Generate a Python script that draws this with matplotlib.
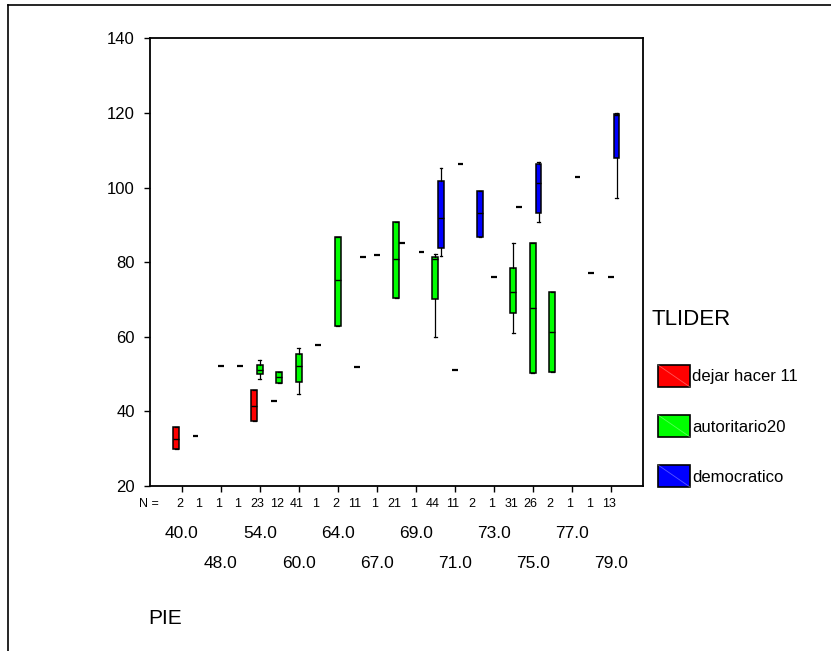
import matplotlib
matplotlib.use('Agg')
import matplotlib.pyplot as plt
from matplotlib.patches import Rectangle
from matplotlib.lines import Line2D

plt.rcParams['font.family'] = ['Liberation Sans', 'DejaVu Sans']

# PIE categories (23 of them, only every second one is labelled)
pie_labels = ['40.0', '48.0', '54.0', '60.0', '64.0', '67.0',
              '69.0', '71.0', '73.0', '75.0', '77.0', '79.0']
n_counts = [2, 1, 1, 1, 23, 12, 41, 1, 2, 11, 1, 21,
            1, 44, 11, 2, 1, 31, 26, 2, 1, 1, 13]

groups = ['dejar hacer 11', 'autoritario20', 'democratico']
colors = ['#ff0000', '#00ff00', '#0000ff']

# boxes: category index and (whislo, q1, med, q3, whishi)
red_box_cat = [0, 4]
red_box_stats = [(29.8, 29.8, 32.6, 35.9, 35.9),
                 (37.5, 37.5, 41.5, 45.7, 45.7)]
green_box_cat = [4, 5, 6, 8, 11, 13, 17, 18, 19]
green_box_stats = [(48.7, 50.0, 51.1, 52.4, 53.8),
                   (47.7, 47.7, 49.3, 50.6, 50.6),
                   (44.6, 47.8, 52.2, 55.5, 56.9),
                   (62.9, 62.9, 75.2, 86.8, 86.8),
                   (70.5, 70.5, 80.9, 90.8, 90.8),
                   (60.0, 70.1, 80.8, 81.4, 82.1),
                   (60.9, 66.3, 72.0, 78.3, 85.0),
                   (50.2, 50.2, 67.6, 85.0, 85.0),
                   (50.6, 50.6, 61.2, 72.0, 72.0)]
blue_box_cat = [13, 15, 18, 22]
blue_box_stats = [(81.7, 83.7, 91.7, 101.7, 105.3),
                  (86.8, 86.8, 93.1, 99.0, 99.0),
                  (90.8, 93.1, 101.1, 106.2, 106.9),
                  (97.1, 107.8, 119.4, 119.8, 120.0)]

# single observations (n = 1)
red_one_cat = [1, 5]
red_one_val = [33.5, 42.9]
green_one_cat = [2, 3, 7, 9, 10, 14, 16, 21, 22]
green_one_val = [52.2, 52.2, 57.7, 52.0, 81.9, 51.1, 76.1, 77.0, 76.1]
blue_one_cat = [9, 11, 12, 14, 17, 20]
blue_one_val = [81.4, 85.0, 82.8, 106.2, 94.8, 102.9]

W, H = 831, 651
fig = plt.figure(figsize=(W / 100, H / 100), dpi=100)
ax = fig.add_axes([150 / W, 1 - 486 / H, 493.3 / W, 447.7 / H])

offsets = [-0.29, 0.0, 0.29]
box_cats = [red_box_cat, green_box_cat, blue_box_cat]
box_stats = [red_box_stats, green_box_stats, blue_box_stats]
one_cats = [red_one_cat, green_one_cat, blue_one_cat]
one_vals = [red_one_val, green_one_val, blue_one_val]

for g in range(3):
    stats = []
    for s in box_stats[g]:
        stats.append(dict(whislo=s[0], q1=s[1], med=s[2], q3=s[3], whishi=s[4], fliers=[]))
    pos = [c + offsets[g] for c in box_cats[g]]
    ax.bxp(stats, positions=pos, widths=0.3, patch_artist=True, showfliers=False,
           manage_ticks=False, capwidths=0.15,
           boxprops=dict(facecolor=colors[g], edgecolor='black', linewidth=1.1),
           medianprops=dict(color='black', linewidth=1.0),
           whiskerprops=dict(color='black', linewidth=0.9),
           capprops=dict(color='black', linewidth=0.9))
    xs = [c + offsets[g] for c in one_cats[g]]
    ax.hlines(one_vals[g], [x - 0.15 for x in xs], [x + 0.15 for x in xs],
              colors='black', linewidth=1.6)

ax.set_xlim(-1.625, 23.66)
ax.set_ylim(20, 140)
ax.set_yticks([20, 40, 60, 80, 100, 120, 140])
ax.tick_params(axis='y', labelsize=12, length=4, width=1, pad=7)
ax.set_xticks(range(0, 23, 2))
ax.set_xticklabels([])
ax.tick_params(axis='x', length=4, width=1)
for sp in ax.spines.values():
    sp.set_linewidth(1.3)

# N row and two-row category labels
trans = ax.get_xaxis_transform()
ax.text(-1.2, -0.040, 'N =', transform=trans, ha='right', va='center', fontsize=9)
for i, n in enumerate(n_counts):
    ax.text(i - 0.12, -0.040, str(n), transform=trans, ha='center', va='center', fontsize=9)
for k, lab in enumerate(pie_labels):
    yrow = -0.105 if k % 2 == 0 else -0.172
    ax.text(2 * k, yrow, lab, transform=trans, ha='center', va='center', fontsize=12.5)

fig.text(165 / W, 1 - 618 / H, 'PIE', ha='center', va='center', fontsize=15)

# legend
fig.text(651 / W, 1 - 320 / H, 'TLIDER', ha='left', va='center', fontsize=16)
for g in range(3):
    yc = 376 + 50 * g
    x0, x1 = 658, 690
    y0, y1 = yc - 11, yc + 11
    fig.add_artist(Rectangle((x0 / W, 1 - y1 / H), (x1 - x0) / W, (y1 - y0) / H,
                             transform=fig.transFigure, facecolor=colors[g],
                             edgecolor='black', linewidth=1.2))
    fig.add_artist(Line2D([x0 / W, x1 / W], [1 - y0 / H, 1 - y1 / H],
                          transform=fig.transFigure, color='white', alpha=0.35, linewidth=0.6))
    fig.text(692 / W, 1 - (yc + 1) / H, groups[g], ha='left', va='center', fontsize=12)

# outer frame
fig.add_artist(Line2D([8 / W, 1.0], [1 - 5 / H, 1 - 5 / H], transform=fig.transFigure,
                      color='black', linewidth=1.2))
fig.add_artist(Line2D([8 / W, 8 / W], [0.0, 1 - 5 / H], transform=fig.transFigure,
                      color='black', linewidth=1.2))

fig.savefig('out.png', dpi=100)
